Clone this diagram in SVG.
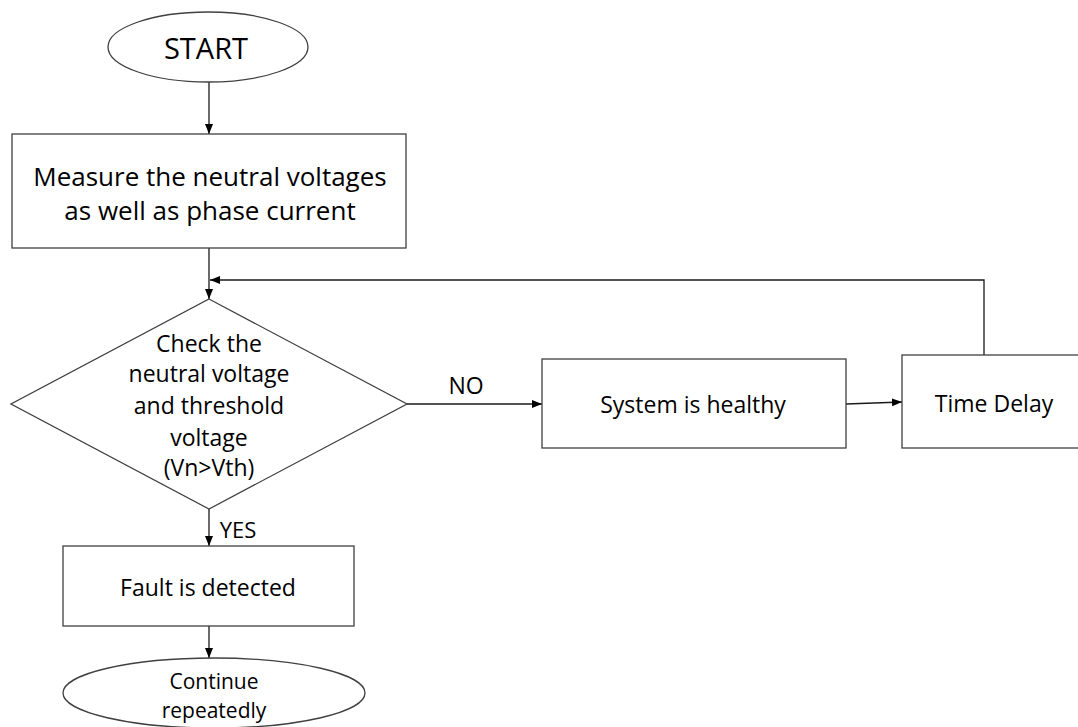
<svg xmlns="http://www.w3.org/2000/svg" width="1078" height="727" viewBox="0 0 1078 727">
<style>
.shape{fill:#fff;stroke:#404040;stroke-width:1.3}
.conn{fill:none;stroke:#1a1a1a;stroke-width:1.3}
.t{font-family:"Open Sans","Liberation Sans",sans-serif;fill:#000;text-anchor:middle;dominant-baseline:central;font-size:23px}
</style>
<defs>
<marker id="arr" markerUnits="userSpaceOnUse" markerWidth="10" markerHeight="10" viewBox="0 0 10 10" refX="10" refY="5" orient="auto">
<path d="M0,1 L10,5 L0,9 Z" fill="#000"/>
</marker>
</defs>
<rect width="1078" height="727" fill="#fff"/>
<g id="connectors">
<line class="conn" x1="209" y1="82" x2="209" y2="134" marker-end="url(#arr)"/>
<line class="conn" x1="209" y1="248" x2="209" y2="299" marker-end="url(#arr)"/>
<polyline class="conn" points="984,355 984,280 210,280" marker-end="url(#arr)"/>
<line class="conn" x1="407" y1="404" x2="542" y2="404" marker-end="url(#arr)"/>
<line class="conn" x1="846" y1="404" x2="902" y2="402" marker-end="url(#arr)"/>
<line class="conn" x1="209" y1="509" x2="209" y2="546" marker-end="url(#arr)"/>
<line class="conn" x1="209" y1="626" x2="209" y2="658" marker-end="url(#arr)"/>
<text class="t" x="466" y="385">NO</text>
<text class="t" x="238" y="529" style="font-size:22px">YES</text>
</g>
<g id="start">
<ellipse class="shape" cx="208" cy="47" rx="100" ry="35"/>
<text class="t" x="206" y="47" style="font-size:29px">START</text>
</g>
<g id="measure">
<rect class="shape" x="12" y="134" width="394" height="114"/>
<text class="t" x="210" y="176" style="font-size:26px">Measure the neutral voltages</text>
<text class="t" x="210" y="210" style="font-size:26px">as well as phase current</text>
</g>
<g id="check">
<polygon class="shape" points="209,299 407,404 209,509 11,404"/>
<text class="t" x="209" y="343">Check the</text>
<text class="t" x="209" y="373">neutral voltage</text>
<text class="t" x="209" y="405">and threshold</text>
<text class="t" x="209" y="437">voltage</text>
<text class="t" x="209" y="467">(Vn&gt;Vth)</text>
</g>
<g id="healthy">
<rect class="shape" x="542" y="359" width="304" height="89"/>
<text class="t" x="693" y="404">System is healthy</text>
</g>
<g id="delay">
<rect class="shape" x="902" y="355" width="190" height="93"/>
<text class="t" x="994" y="403">Time Delay</text>
</g>
<g id="fault">
<rect class="shape" x="63" y="546" width="291" height="80"/>
<text class="t" x="208" y="587">Fault is detected</text>
</g>
<g id="continue">
<ellipse class="shape" cx="214" cy="693" rx="151" ry="35"/>
<text class="t" x="214" y="681" style="font-size:21px">Continue</text>
<text class="t" x="214" y="710" style="font-size:21px">repeatedly</text>
</g>
</svg>
